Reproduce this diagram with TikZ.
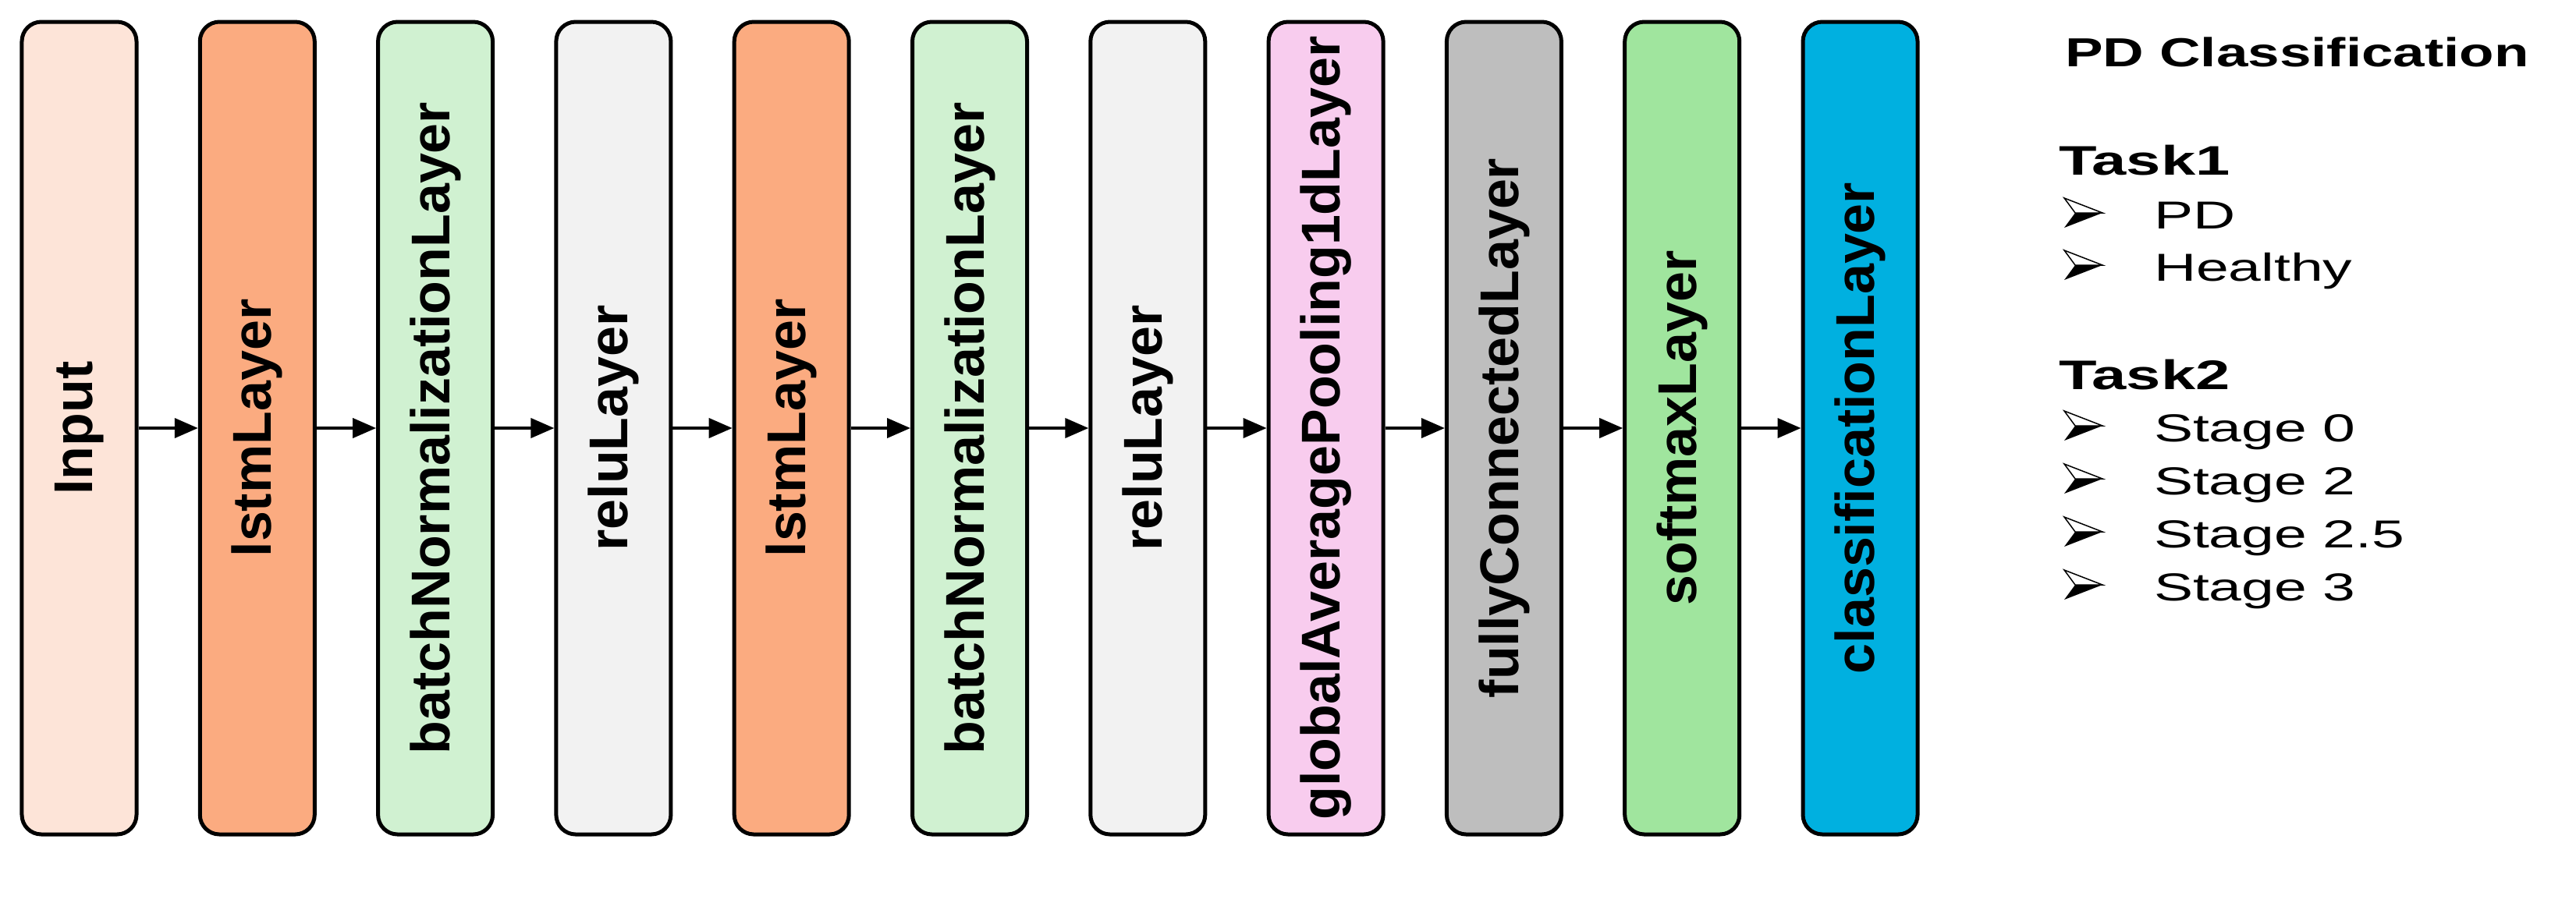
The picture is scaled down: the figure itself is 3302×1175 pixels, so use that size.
\documentclass[tikz,border=0pt]{standalone}
\usepackage{fontspec}
\setmainfont{Liberation Sans}
\newfontfamily\wide[FakeStretch=1.5]{Liberation Sans}
\newfontfamily\widet[FakeStretch=1.4]{Liberation Sans}
\usetikzlibrary{arrows.meta}
\definecolor{cInput}{HTML}{FDE4D8}
\definecolor{cLstm}{HTML}{FBAB80}
\definecolor{cBn}{HTML}{D0F1D1}
\definecolor{cRelu}{HTML}{F2F2F2}
\definecolor{cGap}{HTML}{F8CCEE}
\definecolor{cFc}{HTML}{BEBEBE}
\definecolor{cSm}{HTML}{A0E59E}
\definecolor{cCl}{HTML}{00B0E0}
\begin{document}
\begin{tikzpicture}[x=0.2pt,y=-0.2pt,
  layer/.style={draw=black,line width=1pt,rounded corners=5pt,minimum width=29.4pt,minimum height=208.4pt,inner sep=0pt},
  lbl/.style={rotate=90,font=\bfseries\fontsize{14}{16}\selectfont},
  conn/.style={-{Triangle[length=6pt,width=5pt]},line width=0.8pt},
  bullet/.style={line width=0.3pt}]
\useasboundingbox (0,0) rectangle (3302,1175);
\foreach \i/\c/\t [count=\k from 0] in {
  a/cInput/Input, b/cLstm/lstmLayer, c/cBn/batchNormalizationLayer, d/cRelu/reluLayer,
  e/cLstm/lstmLayer, f/cBn/batchNormalizationLayer, g/cRelu/reluLayer,
  h/cGap/globalAveragePooling1dLayer, j/cFc/fullyConnectedLayer, m/cSm/softmaxLayer, n/cCl/classificationLayer}{
  \node[layer,fill=\c] (\i) at ({101.5+228.3*\k},549) {};
  \node[lbl] (\i t) at (\i) {\t};
}
\foreach \p/\q in {a/b,b/c,c/d,d/e,e/f,f/g,g/h,h/j,j/m,m/n}
  \draw[conn] (\p.east) -- (\q.west);
\node[anchor=base west,inner sep=0pt,font=\widet\bfseries\fontsize{10.4}{12}\selectfont] (title) at (2646,85) {PD Classification};
\node[anchor=base west,inner sep=0pt,font=\wide\bfseries\fontsize{10.6}{12}\selectfont] (t1) at (2638,224) {Task1};
\node[anchor=base west,inner sep=0pt,font=\wide\bfseries\fontsize{10.6}{12}\selectfont] (t2) at (2638,499) {Task2};
\foreach \y/\t in {293/PD,360/Healthy,566/Stage 0,634/Stage 2,702/Stage 2.5,770/Stage 3}{
  \node[anchor=base west,inner sep=0pt,font=\wide\fontsize{10}{12}\selectfont] at (2760,\y) {\t};
  \begin{scope}[shift={(2646,\y-20)}]
    \draw[bullet,fill=white] (0,-19) -- (49,0) -- (14,0) -- cycle;
    \fill (0,19) -- (49,0) -- (14,0) -- cycle;
  \end{scope}
}
\end{tikzpicture}
\end{document}
